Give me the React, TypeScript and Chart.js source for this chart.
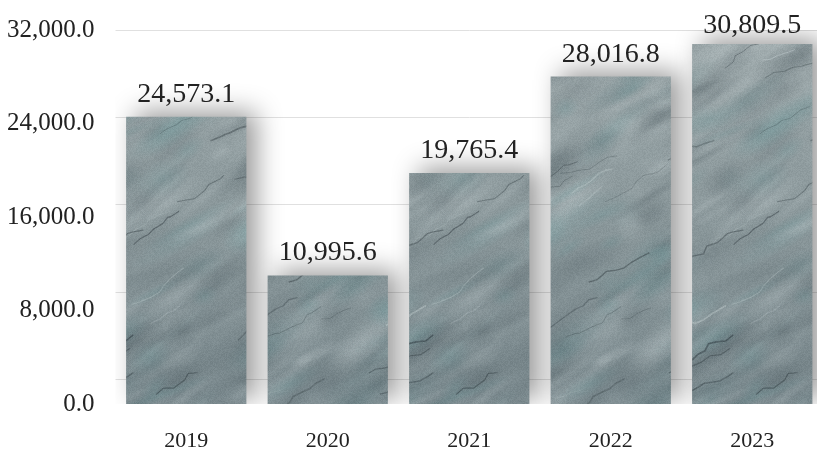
import React, { useEffect, useRef } from "react";
import { Chart, registerables } from "chart.js";

Chart.register(...registerables);

const categories = ["2019", "2020", "2021", "2022", "2023"];
const values = [24573.1, 10995.6, 19765.4, 28016.8, 30809.5];
const yTickValues = [0, 8000, 16000, 24000, 32000];

const FONT = "'Liberation Serif', 'Times New Roman', serif";
const TEXT = "#222222";

function fmt(v: number): string {
  return v.toLocaleString("en-US", { minimumFractionDigits: 1, maximumFractionDigits: 1 });
}

function mulberry32(a: number) {
  return function () {
    a |= 0;
    a = (a + 0x6d2b79f5) | 0;
    let t = Math.imul(a ^ (a >>> 15), 1 | a);
    t = (t + Math.imul(t ^ (t >>> 7), 61 | t)) ^ t;
    return ((t ^ (t >>> 14)) >>> 0) / 4294967296;
  };
}

function makeStone(ctx: CanvasRenderingContext2D): CanvasPattern | string {
  const W = 300, H = 452;
  const c = document.createElement("canvas");
  c.width = W; c.height = H;
  const g = c.getContext("2d");
  if (!g) return "#8c999c";
  const grad = g.createLinearGradient(0, 0, 0, H);
  grad.addColorStop(0, "#a2adaf");
  grad.addColorStop(0.45, "#8b989b");
  grad.addColorStop(1, "#76858a");
  g.fillStyle = grad;
  g.fillRect(0, 0, W, H);
  const rnd = mulberry32(4321);
  const ang = -0.55;
  const shifts = [-W, 0, W];
  for (let i = 0; i < 320; i++) {
    const x = rnd() * W, y = rnd() * H;
    const rx = 14 + rnd() * 46, ry = 5 + rnd() * 14;
    const k = rnd();
    const col = k < 0.38 ? "200,210,212" : k < 0.78 ? "70,84,90" : "100,150,152";
    const a = 0.07 + rnd() * 0.2;
    const rot = ang + (rnd() - 0.5) * 0.4;
    for (const sx of shifts) {
      g.save();
      g.translate(x + sx, y);
      g.rotate(rot);
      g.scale(1, ry / rx);
      const rg = g.createRadialGradient(0, 0, 0, 0, 0, rx);
      rg.addColorStop(0, `rgba(${col},${a})`);
      rg.addColorStop(1, `rgba(${col},0)`);
      g.fillStyle = rg;
      g.beginPath();
      g.arc(0, 0, rx, 0, Math.PI * 2);
      g.fill();
      g.restore();
    }
  }
  for (let i = 0; i < 40; i++) {
    const x0 = rnd() * W, y0 = rnd() * H;
    const dark = rnd() > 0.4;
    const stroke = dark ? `rgba(45,55,60,${0.2 + rnd() * 0.3})` : `rgba(210,220,222,${0.18 + rnd() * 0.22})`;
    const lw = 0.6 + rnd() * 1.1;
    const steps = 3 + Math.floor(rnd() * 6);
    const pts: [number, number][] = [[x0, y0]];
    let x = x0, y = y0;
    for (let s = 0; s < steps; s++) {
      x += 4 + rnd() * 7;
      y -= 1 + rnd() * 6;
      pts.push([x + (rnd() - 0.5) * 3, y + (rnd() - 0.5) * 3]);
    }
    for (const sx of shifts) {
      g.strokeStyle = stroke;
      g.lineWidth = lw;
      g.beginPath();
      pts.forEach((p, j) => (j === 0 ? g.moveTo(p[0] + sx, p[1]) : g.lineTo(p[0] + sx, p[1])));
      g.stroke();
    }
  }
  const img = g.getImageData(0, 0, W, H);
  const d = img.data;
  for (let i = 0; i < d.length; i += 4) {
    const n = (rnd() - 0.5) * 12;
    d[i] = Math.max(0, Math.min(255, d[i] + n));
    d[i + 1] = Math.max(0, Math.min(255, d[i + 1] + n));
    d[i + 2] = Math.max(0, Math.min(255, d[i + 2] + n));
  }
  g.putImageData(img, 0, 0);
  return ctx.createPattern(c, "repeat") || "#8c999c";
}

const barDecor = {
  id: "barDecor",
  beforeDatasetsDraw(chart: any) {
    const ctx = chart.ctx;
    ctx.save();
    ctx.shadowColor = "rgba(0,0,0,0.4)";
    ctx.shadowBlur = 26;
    ctx.shadowOffsetX = 10;
    ctx.shadowOffsetY = -5;
  },
  afterDatasetsDraw(chart: any) {
    const ctx = chart.ctx;
    ctx.restore();
    ctx.save();
    ctx.font = `28px ${FONT}`;
    ctx.fillStyle = TEXT;
    ctx.textAlign = "center";
    ctx.textBaseline = "alphabetic";
    const meta = chart.getDatasetMeta(0);
    meta.data.forEach((bar: any, i: number) => {
      const y = Math.max(bar.y - 15, chart.chartArea.top + 3);
      ctx.fillText(fmt(values[i]), bar.x, y);
    });
    ctx.restore();
  },
};

export default function App() {
  const ref = useRef<HTMLCanvasElement>(null);
  useEffect(() => {
    const canvas = ref.current;
    if (!canvas) return;
    const ctx = canvas.getContext("2d")!;
    const pattern = makeStone(ctx);
    const chart = new Chart(ctx, {
      type: "bar",
      data: {
        labels: categories,
        datasets: [
          {
            data: values,
            backgroundColor: pattern as any,
            borderWidth: 0,
            categoryPercentage: 0.85,
            barPercentage: 1,
          },
        ],
      },
      options: {
        animation: false,
        responsive: false,
        layout: { padding: { left: 7, top: 30, right: 0, bottom: 0 } },
        plugins: { legend: { display: false }, tooltip: { enabled: false } },
        scales: {
          x: {
            grid: { display: false, drawTicks: true, tickLength: 26 },
            border: { display: false },
            ticks: { padding: 0, color: TEXT, font: { family: FONT, size: 22, lineHeight: 1 } },
          },
          y: {
            min: 0,
            max: 32000,
            afterBuildTicks: (axis: any) => {
              axis.ticks = yTickValues.map((v) => ({ value: v }));
            },
            grid: { display: false, drawTicks: true, tickLength: 21 },
            border: { display: false },
            ticks: {
              padding: 0,
              color: TEXT,
              font: { family: FONT, size: 25 },
              callback: (v: any) => fmt(Number(v)),
            },
          },
          y2: {
            position: "right",
            min: -2250,
            max: 32000,
            afterBuildTicks: (axis: any) => {
              axis.ticks = yTickValues.map((v) => ({ value: v }));
            },
            grid: { display: true, color: "#e0e0e0", lineWidth: 1, drawTicks: false },
            border: { display: false },
            ticks: { display: false },
          },
        },
      },
      plugins: [barDecor],
    });
    return () => chart.destroy();
  }, []);
  return (
    <div style={{ position: "absolute", left: 0, top: 0, width: 817, height: 452, overflow: "hidden", background: "#fff" }}>
      <canvas ref={ref} width={823} height={452} style={{ display: "block" }} />
    </div>
  );
}
